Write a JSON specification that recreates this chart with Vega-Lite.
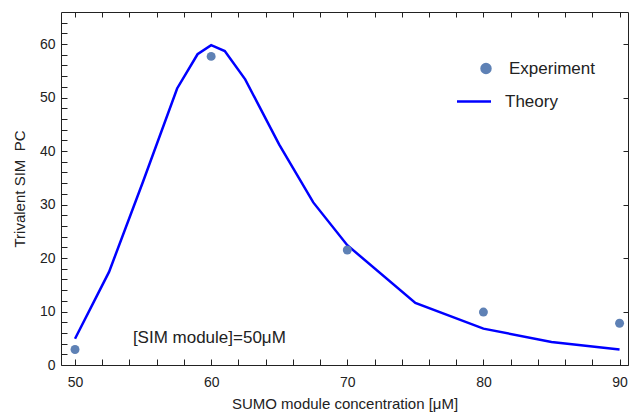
{
  "$schema": "https://vega.github.io/schema/vega-lite/v6.json",
  "width": 567,
  "height": 353,
  "autosize": {"type": "none"},
  "padding": {"left": 61, "top": 12, "right": 1, "bottom": 48},
  "background": "white",
  "config": {
    "font": "Liberation Sans",
    "view": {"stroke": "#222", "strokeWidth": 1},
    "axis": {
      "grid": false,
      "domain": false,
      "tickColor": "#222",
      "labelColor": "#222",
      "titleColor": "#222",
      "labelFont": "Liberation Sans",
      "titleFont": "Liberation Sans",
      "labelFontSize": 14,
      "titleFontSize": 15,
      "titleFontWeight": "normal"
    }
  },
  "datasets": {
    "theory": [
      {"conc": 50, "pc": 4.9},
      {"conc": 52.5, "pc": 17.4},
      {"conc": 55, "pc": 34.3},
      {"conc": 57.5, "pc": 51.7},
      {"conc": 59, "pc": 58.1},
      {"conc": 60, "pc": 59.8},
      {"conc": 61, "pc": 58.7},
      {"conc": 62.5, "pc": 53.4},
      {"conc": 65, "pc": 41.2},
      {"conc": 67.5, "pc": 30.4},
      {"conc": 70, "pc": 22.4},
      {"conc": 75, "pc": 11.6},
      {"conc": 80, "pc": 6.8},
      {"conc": 85, "pc": 4.3},
      {"conc": 90, "pc": 2.9}
    ],
    "experiment": [
      {"conc": 50, "pc": 2.9},
      {"conc": 60, "pc": 57.7},
      {"conc": 70, "pc": 21.5},
      {"conc": 80, "pc": 9.9},
      {"conc": 90, "pc": 7.8}
    ],
    "note": [
      {"label": "[SIM module]=50μM"}
    ]
  },
  "resolve": {"axis": {"x": "independent", "y": "independent"}},
  "layer": [
    {
      "data": {"name": "theory"},
      "mark": {"type": "line", "strokeWidth": 2.5},
      "encoding": {
        "x": {
          "field": "conc", "type": "quantitative",
          "scale": {"domain": [48.97, 90.62], "nice": false, "zero": false},
          "axis": {
            "orient": "bottom",
            "values": [50, 52, 54, 56, 58, 60, 62, 64, 66, 68, 70, 72, 74, 76, 78, 80, 82, 84, 86, 88, 90],
            "labelExpr": "datum.value % 10 === 0 ? datum.label : ''",
            "tickSize": -6, "labelPadding": 16,
            "title": "SUMO module concentration [μM]", "titlePadding": 7,
            "encode": {"ticks": {"update": {"y2": {"signal": "datum.value % 10 === 0 ? -6 : -3"}}}}
          }
        },
        "y": {
          "field": "pc", "type": "quantitative",
          "scale": {"domain": [0, 66], "nice": false, "zero": false},
          "axis": {
            "orient": "left",
            "values": [0, 2, 4, 6, 8, 10, 12, 14, 16, 18, 20, 22, 24, 26, 28, 30, 32, 34, 36, 38, 40, 42, 44, 46, 48, 50, 52, 54, 56, 58, 60, 62, 64],
            "labelExpr": "datum.value % 10 === 0 ? datum.label : ''",
            "tickSize": -6, "labelPadding": 12,
            "title": "Trivalent SIM\u00a0 PC", "titlePadding": 12,
            "encode": {"ticks": {"update": {"x2": {"signal": "datum.value % 10 === 0 ? 6 : 3"}}}}
          }
        },
        "color": {
          "datum": "Theory",
          "scale": {"domain": ["Experiment", "Theory"], "range": ["#5E81B5", "#0000FF"]},
          "legend": {
            "title": null,
            "orient": "none",
            "legendX": 408,
            "legendY": 48,
            "labelFont": "Liberation Sans",
            "labelFontSize": 17,
            "labelColor": "#222",
            "labelOffset": 19,
            "rowPadding": 14,
            "symbolStrokeWidth": 2.5,
            "encode": {
              "symbols": {
                "update": {
                  "shape": {"signal": "datum.value === 'Theory' ? 'stroke' : 'circle'"},
                  "size": {"signal": "datum.value === 'Theory' ? 1156 : 80"},
                  "x": {"signal": "datum.value === 'Experiment' ? 17 : 5"},
                  "strokeWidth": {"value": 2.5},
                  "fill": {"signal": "datum.value === 'Theory' ? 'transparent' : '#5E81B5'"},
                  "stroke": {"signal": "datum.value === 'Theory' ? '#0000FF' : 'transparent'"},
                  "opacity": {"value": 1}
                }
              },
              "labels": {
                "update": {
                  "dx": {"signal": "datum.value === 'Experiment' ? 4 : 0"}
                }
              }
            }
          }
        }
      }
    },
    {
      "data": {"name": "experiment"},
      "mark": {"type": "point", "filled": true, "size": 80, "opacity": 1},
      "encoding": {
        "x": {
          "field": "conc", "type": "quantitative",
          "axis": {
            "orient": "top",
            "values": [50, 52, 54, 56, 58, 60, 62, 64, 66, 68, 70, 72, 74, 76, 78, 80, 82, 84, 86, 88, 90],
            "labels": false, "title": null, "tickSize": -5,
            "encode": {"ticks": {"update": {"y2": {"signal": "datum.value % 10 === 0 ? 5 : 3"}}}}
          }
        },
        "y": {
          "field": "pc", "type": "quantitative",
          "axis": {"orient": "right", "values": [0, 10, 20, 30, 40, 50, 60], "tickSize": -5, "labels": false, "title": null}
        },
        "color": {"datum": "Experiment"}
      }
    },
    {
      "data": {"name": "note"},
      "mark": {"type": "text", "align": "left", "baseline": "middle", "font": "Liberation Sans", "fontSize": 17, "color": "#222"},
      "encoding": {
        "x": {"datum": 54.25, "type": "quantitative", "axis": null},
        "y": {"datum": 5.1, "type": "quantitative", "axis": null},
        "text": {"field": "label"}
      }
    }
  ]
}
